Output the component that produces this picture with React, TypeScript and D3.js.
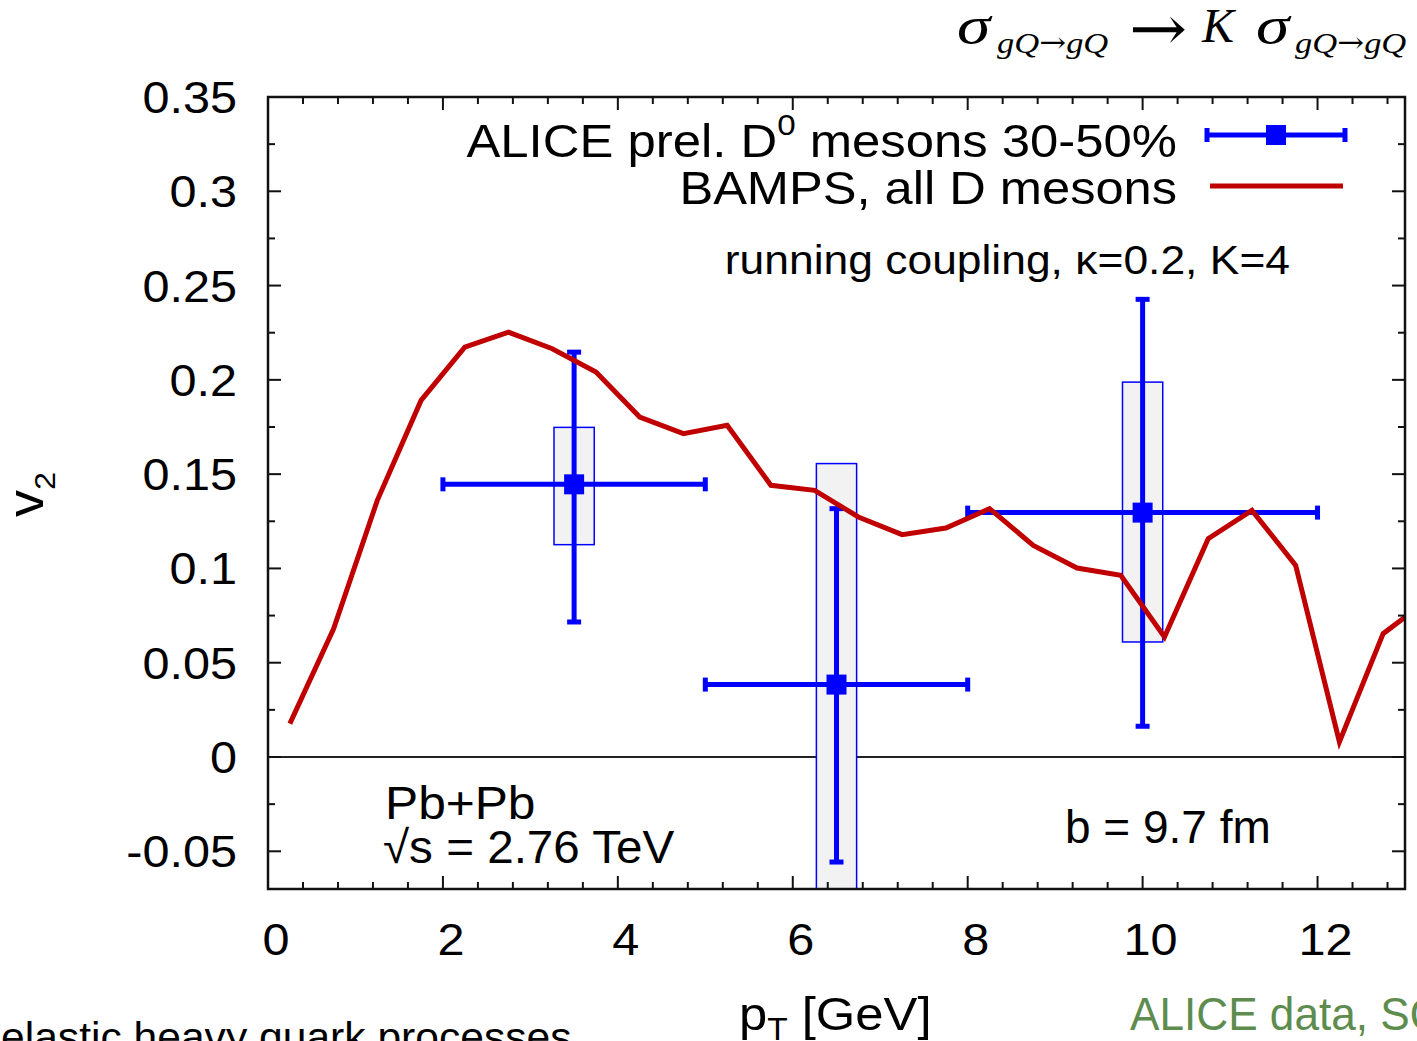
import React from "react";
import * as d3 from "d3";

// BAMPS v2(pT) curve for all D mesons
const ptCurve = [0.25, 0.75, 1.25, 1.75, 2.25, 2.75, 3.25, 3.75, 4.25, 4.75, 5.25, 5.75, 6.25, 6.75, 7.25, 7.75, 8.25, 8.75, 9.25, 9.75, 10.25, 10.75, 11.25, 11.75, 12.25, 12.75, 13.25];
const v2Curve = [0.0177, 0.068, 0.1361, 0.1891, 0.2174, 0.2253, 0.2165, 0.2041, 0.1803, 0.1715, 0.1759, 0.1441, 0.1414, 0.1273, 0.1179, 0.1214, 0.1317, 0.1122, 0.1002, 0.0963, 0.0636, 0.1158, 0.1308, 0.1016, 0.008, 0.0654, 0.083];

// ALICE preliminary D0 v2, 30-50%
const ptData = [3.5, 6.5, 10];
const ptLow = [2, 5, 8];
const ptHigh = [5, 8, 12];
const v2Data = [0.1446, 0.0384, 0.1296];
const statLow = [0.0716, -0.0557, 0.0163];
const statHigh = [0.2147, 0.1317, 0.2427];
const sysLow = [0.1126, -0.079, 0.061];
const sysHigh = [0.1748, 0.1556, 0.1988];
const sysHalfWidth = 0.23; // GeV

const xMajorTicks = [0, 2, 4, 6, 8, 10, 12];
const xTickLabels = ["0", "2", "4", "6", "8", "10", "12"];
const yMajorTicks = [-0.05, 0, 0.05, 0.1, 0.15, 0.2, 0.25, 0.3, 0.35];
const yTickLabels = ["-0.05", "0", "0.05", "0.1", "0.15", "0.2", "0.25", "0.3", "0.35"];

const W = 1417;
const H = 1041;
const L = 268, R = 1405, T = 97, B = 889;
const SANS = "'Liberation Sans', Arial, Helvetica, sans-serif";
const SERIF = "'Liberation Serif', 'Times New Roman', serif";
const ARROW = "'DejaVu Serif', 'DejaVu Sans', serif";
const BLUE = "#0000ff";
const RED = "#c00000";

function SText({ x, y, size, sx = 1.08, anchor = "start", fill = "#000", family = SANS, italic = false, children }: any) {
  return (
    <text
      transform={`translate(${x},${y}) scale(${sx},1)`}
      fontSize={size}
      textAnchor={anchor}
      fill={fill}
      fontFamily={family}
      fontStyle={italic ? "italic" : "normal"}
    >
      {children}
    </text>
  );
}

function Subscript({ x, y }: { x: number; y: number }) {
  return (
    <text transform={`translate(${x},${y}) scale(1.15,1)`} fontFamily={SERIF} fontStyle="italic" fontSize={30}>
      gQ<tspan fontFamily={ARROW} fontStyle="normal" fontSize={28} dy={-1}>→</tspan>
      <tspan dy={1}>gQ</tspan>
    </text>
  );
}

export default function App() {
  const x = d3.scaleLinear().domain([0, 13]).range([L, R]);
  const y = d3.scaleLinear().domain([-0.07, 0.35]).range([B, T]);

  const curve = d3
    .line<number>()
    .x((_, i) => x(ptCurve[i]))
    .y((d) => y(d))(v2Curve) as string;

  const xMinor = d3.range(0, 13.001, 0.4).filter((t) => Math.abs(t / 2 - Math.round(t / 2)) > 1e-6);
  const yMinor = d3.range(-0.075, 0.3501, 0.025).filter((t) => t > -0.07 && Math.abs(t / 0.05 - Math.round(t / 0.05)) > 1e-6);

  const cap = 7;
  const bw = 5;

  return (
    <svg width={W} height={H} style={{ position: "absolute", left: 0, top: 0, background: "#fff" }}>
      <defs>
        <clipPath id="plotArea">
          <rect x={L} y={T} width={R - L} height={B - T} />
        </clipPath>
      </defs>

      {/* cross-section scaling header */}
      <SText x={957} y={43} size={52} sx={1.3} family={SERIF} italic>σ</SText>
      <Subscript x={997} y={53} />
      <text transform="translate(1129,50) scale(1.12,1)" fontFamily={ARROW} fontSize={62}>→</text>
      <text x={1202} y={42} fontFamily={SERIF} fontStyle="italic" fontSize={48}>K</text>
      <SText x={1256} y={43} size={52} sx={1.3} family={SERIF} italic>σ</SText>
      <Subscript x={1295} y={53} />

      <g clipPath="url(#plotArea)">
        {/* zero line */}
        <line x1={L} x2={R} y1={y(0)} y2={y(0)} stroke="#222" strokeWidth={1.8} />

        {/* systematic boxes */}
        {ptData.map((p, i) => (
          <rect
            key={"sys" + i}
            x={x(p - sysHalfWidth)}
            y={y(sysHigh[i])}
            width={x(p + sysHalfWidth) - x(p - sysHalfWidth)}
            height={y(sysLow[i]) - y(sysHigh[i])}
            fill="#f2f2f2"
            stroke={BLUE}
            strokeWidth={1.5}
          />
        ))}

        {/* statistical error bars */}
        {ptData.map((p, i) => (
          <g key={"err" + i} stroke={BLUE} strokeWidth={bw}>
            <line x1={x(ptLow[i])} x2={x(ptHigh[i])} y1={y(v2Data[i])} y2={y(v2Data[i])} />
            <line x1={x(ptLow[i])} x2={x(ptLow[i])} y1={y(v2Data[i]) - cap} y2={y(v2Data[i]) + cap} />
            <line x1={x(ptHigh[i])} x2={x(ptHigh[i])} y1={y(v2Data[i]) - cap} y2={y(v2Data[i]) + cap} />
            <line x1={x(p)} x2={x(p)} y1={y(statLow[i])} y2={y(statHigh[i])} />
            <line x1={x(p) - cap} x2={x(p) + cap} y1={y(statLow[i])} y2={y(statLow[i])} />
            <line x1={x(p) - cap} x2={x(p) + cap} y1={y(statHigh[i])} y2={y(statHigh[i])} />
            <rect x={x(p) - 10} y={y(v2Data[i]) - 10} width={20} height={20} fill={BLUE} stroke="none" />
          </g>
        ))}

        {/* BAMPS curve */}
        <path d={curve} fill="none" stroke={RED} strokeWidth={5} strokeLinejoin="miter" />
      </g>

      {/* ticks on all four sides */}
      <g stroke="#111" strokeWidth={2}>
        {xMajorTicks.map((t) => (
          <g key={"xm" + t}>
            <line x1={x(t)} x2={x(t)} y1={B} y2={B - 13} />
            <line x1={x(t)} x2={x(t)} y1={T} y2={T + 13} />
          </g>
        ))}
        {xMinor.map((t) => (
          <g key={"xn" + t}>
            <line x1={x(t)} x2={x(t)} y1={B} y2={B - 7} />
            <line x1={x(t)} x2={x(t)} y1={T} y2={T + 7} />
          </g>
        ))}
        {yMajorTicks.map((t) => (
          <g key={"ym" + t}>
            <line x1={L} x2={L + 13} y1={y(t)} y2={y(t)} />
            <line x1={R} x2={R - 13} y1={y(t)} y2={y(t)} />
          </g>
        ))}
        {yMinor.map((t) => (
          <g key={"yn" + t}>
            <line x1={L} x2={L + 7} y1={y(t)} y2={y(t)} />
            <line x1={R} x2={R - 7} y1={y(t)} y2={y(t)} />
          </g>
        ))}
      </g>

      {/* frame */}
      <rect x={L} y={T} width={R - L} height={B - T} fill="none" stroke="#111" strokeWidth={2.5} />

      {/* tick labels */}
      {xMajorTicks.map((t, i) => (
        <SText key={"xl" + t} x={x(t) + 8} y={955} size={45} anchor="middle">{xTickLabels[i]}</SText>
      ))}
      {yMajorTicks.map((t, i) => (
        <SText key={"yl" + t} x={237} y={y(t) + 16} size={45} anchor="end">{yTickLabels[i]}</SText>
      ))}

      {/* axis titles */}
      <text transform="translate(43,517) rotate(-90) scale(1.08,1)" fontFamily={SANS} fontSize={50}>
        v<tspan fontSize={30} dy={12}>2</tspan>
      </text>
      <SText x={739} y={1030} size={47}>
        p<tspan fontSize={31} dy={10}>T</tspan><tspan dy={-10}> [GeV]</tspan>
      </SText>

      {/* legend */}
      <SText x={1177} y={157} size={46} sx={1.105} anchor="end">
        ALICE prel. D<tspan fontSize={30} dy={-22}>0</tspan><tspan dy={22}> mesons 30-50%</tspan>
      </SText>
      <SText x={1177} y={204} size={46} sx={1.1} anchor="end">BAMPS, all D mesons</SText>
      <g stroke={BLUE} strokeWidth={bw}>
        <line x1={1207} x2={1345} y1={135} y2={135} />
        <line x1={1207} x2={1207} y1={135 - cap} y2={135 + cap} />
        <line x1={1345} x2={1345} y1={135 - cap} y2={135 + cap} />
        <rect x={1266} y={125} width={20} height={20} fill={BLUE} stroke="none" />
      </g>
      <line x1={1210} x2={1343} y1={186} y2={186} stroke={RED} strokeWidth={5} />

      {/* annotations */}
      <SText x={1290} y={274} size={40} sx={1.11} anchor="end">running coupling, κ=0.2, K=4</SText>
      <SText x={385} y={819} size={46}>Pb+Pb</SText>
      <SText x={383} y={863} size={46} sx={1.035}>√s = 2.76 TeV</SText>
      <SText x={1065} y={843} size={46} sx={1.0}>b = 9.7 fm</SText>

      {/* slide footer */}
      <SText x={1} y={1051} size={40} sx={1.065}>elastic heavy quark processes</SText>
      <SText x={1130} y={1030} size={46} sx={0.96} fill="#5e8c4f">ALICE data, SQM</SText>
    </svg>
  );
}
